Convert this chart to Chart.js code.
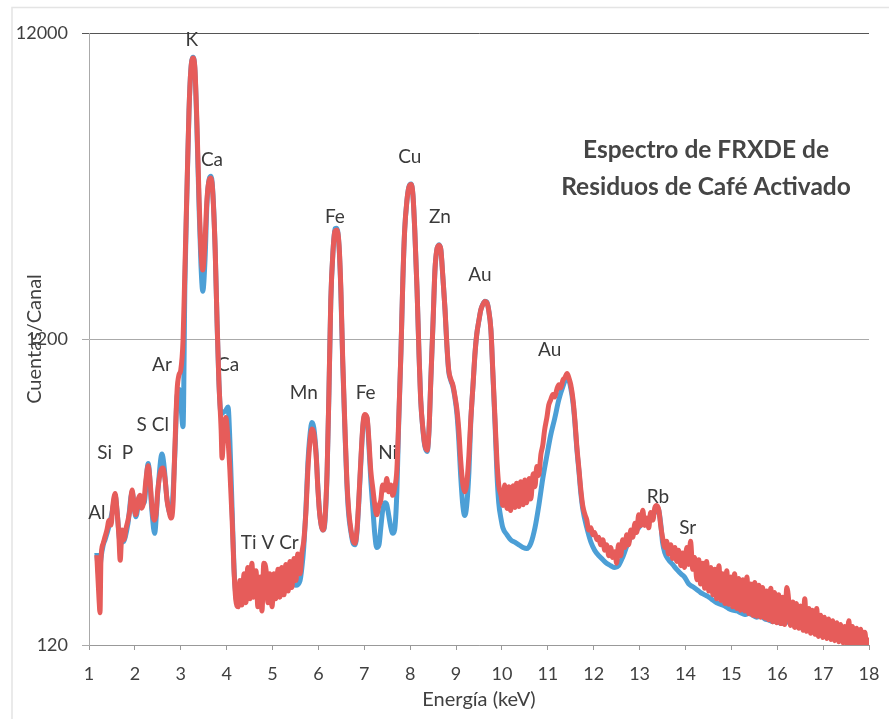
<!DOCTYPE html>
<html><head><meta charset="utf-8">
<script src="https://cdn.jsdelivr.net/npm/chart.js@4/dist/chart.umd.min.js"></script>
<style>html,body{margin:0;padding:0;background:#fff;}canvas{display:block;}</style>
</head><body>
<canvas id="c" width="889" height="719"></canvas>
<script>
// Red spectrum (keV, counts per channel)
const energyRed = [
1.17,1.22,1.24,1.26,1.31,1.35,1.39,1.44,1.48,1.52,
1.57,1.61,1.65,1.68,1.72,1.76,1.81,1.85,1.89,1.94,
1.98,2.02,2.07,2.11,2.15,2.20,2.24,2.29,2.33,2.37,
2.42,2.46,2.50,2.57,2.61,2.66,2.70,2.74,2.79,2.83,
2.87,2.92,2.96,3.00,3.05,3.09,3.14,3.18,3.22,3.27,
3.31,3.35,3.40,3.44,3.48,3.53,3.57,3.62,3.66,3.70,
3.75,3.79,3.83,3.88,3.90,3.94,3.98,4.03,4.07,4.12,
4.16,4.20,4.25,4.29,4.33,4.38,4.42,4.46,4.51,4.55,
4.59,4.64,4.68,4.73,4.77,4.81,4.86,4.90,4.94,4.99,
5.03,5.07,5.12,5.16,5.20,5.25,5.29,5.34,5.38,5.42,
5.47,5.51,5.55,5.60,5.64,5.68,5.73,5.77,5.82,5.86,
5.90,5.95,5.99,6.03,6.10,6.14,6.19,6.23,6.27,6.32,
6.36,6.40,6.45,6.49,6.53,6.58,6.62,6.66,6.71,6.75,
6.80,6.84,6.88,6.93,6.97,7.01,7.06,7.10,7.14,7.19,
7.23,7.27,7.32,7.36,7.40,7.45,7.49,7.53,7.58,7.62,
7.66,7.71,7.75,7.80,7.84,7.88,7.93,7.97,8.02,8.06,
8.10,8.15,8.19,8.23,8.28,8.32,8.37,8.41,8.45,8.50,
8.54,8.58,8.63,8.67,8.71,8.76,8.80,8.84,8.89,8.93,
8.97,9.02,9.06,9.10,9.15,9.19,9.23,9.28,9.32,9.37,
9.41,9.45,9.50,9.54,9.58,9.63,9.67,9.71,9.76,9.80,
9.85,9.89,9.93,9.98,10.02,10.06,10.11,10.15,10.19,10.24,
10.28,10.32,10.37,10.41,10.46,10.50,10.54,10.59,10.63,10.68,
10.72,10.76,10.80,10.85,10.89,10.93,10.98,11.02,11.06,11.11,
11.15,11.20,11.24,11.28,11.33,11.37,11.42,11.46,11.50,11.55,
11.59,11.63,11.68,11.72,11.76,11.81,11.85,11.89,11.94,11.98,
12.02,12.07,12.11,12.15,12.20,12.24,12.28,12.33,12.37,12.41,
12.46,12.50,12.54,12.59,12.63,12.68,12.72,12.76,12.81,12.85,
12.90,12.94,12.98,13.03,13.07,13.11,13.16,13.20,13.24,13.29,
13.33,13.37,13.42,13.46,13.50,13.55,13.59,13.63,13.68,13.72,
13.77,13.81,13.85,13.90,13.94,13.98,14.03,14.07,14.11,14.16,
14.20,14.25,14.29,14.33,14.38,14.42,14.46,14.51,14.55,14.60,
14.64,14.68,14.73,14.77,14.81,14.86,14.90,14.94,14.99,15.03,
15.07,15.12,15.16,15.20,15.25,15.29,15.34,15.38,15.42,15.47,
15.51,15.55,15.60,15.64,15.68,15.73,15.77,15.81,15.86,15.90,
15.94,15.99,16.03,16.08,16.12,16.16,16.21,16.25,16.29,16.34,
16.38,16.42,16.47,16.51,16.56,16.60,16.64,16.69,16.73,16.77,
16.82,16.86,16.90,16.95,16.99,17.03,17.08,17.12,17.17,17.21,
17.25,17.30,17.34,17.38,17.43,17.47,17.51,17.56,17.60,17.64,
17.69,17.73,17.78,17.82,17.86,17.91,17.95,18.00
];
const countsRed = [
236,168,153,227,258,271,285,307,296,343,
375,331,275,227,285,265,290,307,331,385,
343,320,357,370,336,357,415,462,415,343,
307,320,385,448,455,415,357,331,312,343,
520,817,915,950,1190,2017,3970,6720,9080,9940,
9080,6235,3415,2345,2017,2528,3415,3970,4030,3550,
2345,1385,882,605,490,605,665,561,448,307,
211,168,160,195,162,205,165,215,170,222,
172,210,160,200,155,222,210,165,205,160,
205,170,212,172,215,175,220,180,225,185,
230,195,238,205,240,262,331,448,561,610,
590,500,385,320,285,307,448,817,1610,2345,
2700,2725,2430,1736,1025,605,415,331,285,265,
258,285,357,500,630,680,665,561,448,385,
343,320,343,357,400,385,420,380,400,370,
390,448,652,1105,1871,2725,3415,3750,3840,3550,
2725,1736,1105,758,605,540,520,605,882,1385,
2017,2345,2430,2345,1940,1493,1150,950,882,850,
790,703,605,483,400,380,400,500,652,850,
1065,1240,1385,1493,1550,1590,1580,1493,1284,950,
652,483,400,370,343,400,335,395,330,398,
338,405,340,410,345,415,350,420,360,435,
395,460,430,505,540,605,665,730,758,790,
775,825,850,830,882,895,925,895,850,758,
652,540,448,385,343,320,307,285,290,275,
280,265,270,255,265,245,255,235,250,232,
242,222,255,235,265,250,275,255,285,270,
300,280,320,295,331,295,312,290,325,307,
336,343,331,295,270,250,262,238,255,230,
250,225,245,218,240,215,250,220,262,212,
232,196,228,190,222,184,225,180,215,175,
212,170,218,168,205,164,210,163,200,160,
205,158,198,156,196,155,200,152,190,150,
192,149,188,148,185,147,180,145,184,143,
178,142,175,141,172,140,185,168,139,166,
137,164,136,161,134,170,133,158,131,156,
130,158,128,150,127,148,126,146,125,144,
124,142,123,140,122,138,121,144,120,138,
120,136,119,135,119,132,118,127
];

// Blue spectrum (keV, counts per channel)
const energyBlue = [
1.17,1.22,1.26,1.31,1.35,1.44,1.52,1.57,1.61,1.68,
1.76,1.85,1.94,2.02,2.11,2.20,2.29,2.37,2.43,2.50,
2.59,2.63,2.70,2.79,2.87,2.92,2.97,3.05,3.09,3.14,
3.18,3.22,3.27,3.31,3.35,3.40,3.44,3.48,3.53,3.57,
3.62,3.66,3.70,3.75,3.79,3.83,3.88,3.92,3.98,4.03,
4.07,4.12,4.16,4.20,4.25,4.29,4.38,4.46,4.55,4.64,
4.73,4.81,4.90,4.99,5.07,5.16,5.25,5.34,5.42,5.51,
5.60,5.64,5.68,5.73,5.77,5.82,5.86,5.90,5.95,5.99,
6.03,6.10,6.14,6.19,6.23,6.27,6.32,6.36,6.40,6.45,
6.49,6.53,6.58,6.62,6.66,6.71,6.75,6.80,6.84,6.88,
6.93,6.97,7.01,7.06,7.10,7.14,7.19,7.23,7.27,7.32,
7.36,7.40,7.45,7.49,7.53,7.58,7.62,7.66,7.71,7.75,
7.80,7.84,7.88,7.93,7.97,8.02,8.06,8.10,8.15,8.19,
8.23,8.28,8.32,8.37,8.41,8.45,8.50,8.54,8.58,8.63,
8.67,8.71,8.76,8.80,8.84,8.89,8.93,8.97,9.02,9.06,
9.10,9.15,9.19,9.23,9.28,9.32,9.37,9.41,9.45,9.50,
9.54,9.58,9.63,9.67,9.71,9.76,9.80,9.85,9.89,9.93,
9.98,10.02,10.11,10.19,10.28,10.37,10.46,10.54,10.63,10.72,
10.80,10.89,10.98,11.06,11.15,11.24,11.33,11.42,11.46,11.50,
11.55,11.59,11.63,11.68,11.72,11.76,11.85,11.94,12.02,12.11,
12.20,12.28,12.37,12.46,12.54,12.63,12.72,12.81,12.90,12.98,
13.07,13.16,13.24,13.33,13.40,13.46,13.50,13.55,13.63,13.72,
13.81,13.90,13.98,14.07,14.16,14.25,14.33,14.42,14.51,14.60,
14.68,14.77,14.86,14.94,15.03,15.12,15.20,15.29,15.38,15.47,
15.55,15.64,15.73,15.81,15.90,15.99,16.08,16.16,16.25,16.34,
16.42,16.51,16.60,16.69,16.77,16.86,16.95,17.03,17.12,17.21,
17.30,17.38,17.47,17.56,17.64,17.73,17.82,17.91,18.00
];
const countsBlue = [
240,200,230,255,265,295,335,370,330,260,
262,300,380,315,365,350,470,330,278,380,
505,470,360,318,500,780,820,620,1800,3900,
6700,9100,10000,9000,6000,3200,2100,1720,2200,3300,
4000,4080,3600,2350,1380,880,680,690,700,720,
560,330,215,175,165,178,185,190,195,182,
178,192,180,178,180,182,180,185,190,188,
195,215,250,340,470,590,640,615,510,390,
320,285,300,440,810,1600,2350,2750,2760,2400,
1700,1000,590,405,320,280,260,255,280,350,
490,620,675,660,540,420,330,275,250,255,
290,330,350,345,320,290,278,285,380,640,
1100,1860,2720,3400,3760,3850,3550,2720,1730,1100,
755,600,535,515,600,880,1380,2010,2340,2440,
2340,1930,1490,1140,940,875,840,780,680,560,
430,340,318,340,440,640,850,1060,1240,1385,
1495,1555,1595,1585,1495,1280,940,630,440,350,
310,290,275,265,260,255,250,248,258,290,
340,420,500,580,660,760,840,900,880,830,
740,640,530,440,375,335,290,260,245,235,
228,222,218,215,218,232,252,270,282,290,
300,305,312,325,335,300,260,240,228,220,
212,205,200,190,186,182,178,175,172,168,
165,163,161,158,156,155,153,151,152,150,
148,149,146,145,143,144,141,142,143,140,
138,137,135,134,133,132,131,130,129,128,
127,126,126,125,124,124,123,122,122
];

// Axis ticks
const yTickValues = [120, 1200, 12000];
const xMin = 1, xMax = 18;

// Element annotations (text, energy keV, counts)
const elementLabels = ['K','Ca','Ar','Ca','Mn','Fe','Fe','Ni','Cu','Zn','Au','Au','S Cl','Si  P','Al','Ti V Cr','Rb','Sr'];
const labelEnergy   = [3.24,3.68,2.59,4.03,5.68,6.36,7.03,7.51,7.99,8.65,9.52,11.04,2.39,1.57,1.17,4.94,13.40,14.05];
const labelCounts   = [11390,4615,987,987,799,3005,799,509,4716,3005,1943,1105,628,509,324,259,365,289];

const chartTitle = ['Espectro de FRXDE de', 'Residuos de Café Activado'];

const toPoints = (xs, ys) => xs.map((x, i) => ({x: x, y: ys[i]}));

const annotPlugin = {
  id: 'annot',
  beforeDraw(chart) {
    const c = chart.ctx;
    c.save();
    c.strokeStyle = '#e4e4e4';
    c.lineWidth = 1.5;
    c.beginPath();
    c.moveTo(12, 719); c.lineTo(12, 7.5); c.lineTo(889, 7.5);
    c.stroke();
    c.restore();
  },
  beforeDatasetsDraw(chart) {
    const c = chart.ctx, xs = chart.scales.x, ys = chart.scales.y;
    c.save();
    c.font = '19px Lato';
    c.fillStyle = '#3a3a3a';
    c.textAlign = 'center';
    c.textBaseline = 'middle';
    elementLabels.forEach((t, i) => {
      c.fillText(t, xs.getPixelForValue(labelEnergy[i]), ys.getPixelForValue(labelCounts[i]));
    });
    c.restore();
  },
  afterDraw(chart) {
    const c = chart.ctx;
    c.save();
    c.font = 'bold 24.5px Lato';
    c.fillStyle = '#454545';
    c.textAlign = 'center';
    c.textBaseline = 'middle';
    c.fillText(chartTitle[0], 706, 150);
    c.fillText(chartTitle[1], 706, 187);
    c.restore();
  }
};

new Chart(document.getElementById('c'), {
  type: 'line',
  data: {
    datasets: [
      {label: 'Red', data: toPoints(energyRed, countsRed), borderColor: '#e65c5a', borderWidth: 5,
       pointRadius: 0, cubicInterpolationMode: 'monotone', order: 0, borderJoinStyle: 'round'},
      {label: 'Blue', data: toPoints(energyBlue, countsBlue), borderColor: '#4c9fd6', borderWidth: 5,
       pointRadius: 0, cubicInterpolationMode: 'monotone', order: 1, borderJoinStyle: 'round'}
    ]
  },
  options: {
    responsive: false,
    animation: false,
    devicePixelRatio: 1,
    layout: {padding: {left: 0, right: 20, top: 33, bottom: 0}},
    plugins: {legend: {display: false}, tooltip: {enabled: false}},
    scales: {
      x: {
        type: 'linear', min: xMin, max: xMax,
        ticks: {stepSize: 1, font: {family: 'Lato', size: 18}, color: '#404040', padding: 13, maxRotation: 0, autoSkip: false},
        grid: {drawOnChartArea: false, tickLength: 5, color: '#999'},
        border: {color: '#999', width: 1},
        title: {display: true, text: 'Energía (keV)', font: {family: 'Lato', size: 20}, color: '#404040', padding: {top: 0, bottom: 7}},
        afterFit(s) { s.height = 74; s.paddingLeft = 0; s.paddingRight = 0; }
      },
      y: {
        type: 'logarithmic', min: yTickValues[0], max: yTickValues[2],
        afterBuildTicks(s) { s.ticks = yTickValues.map(v => ({value: v})); },
        ticks: {callback: v => String(v), font: {family: 'Lato', size: 18}, color: '#404040', padding: 14},
        grid: {color: c => (c.tick && c.tick.value === 12000) ? '#555' : '#aaa', tickLength: 7, lineWidth: 1},
        border: {color: '#aaa'},
        title: {display: true, text: 'Cuentas/Canal', font: {family: 'Lato', size: 20}, color: '#404040', padding: {top: 23, bottom: 0}},
        afterFit(s) { s.width = 89; s.paddingTop = 0; s.paddingBottom = 0; }
      }
    }
  },
  plugins: [annotPlugin]
});
</script>
</body></html>
